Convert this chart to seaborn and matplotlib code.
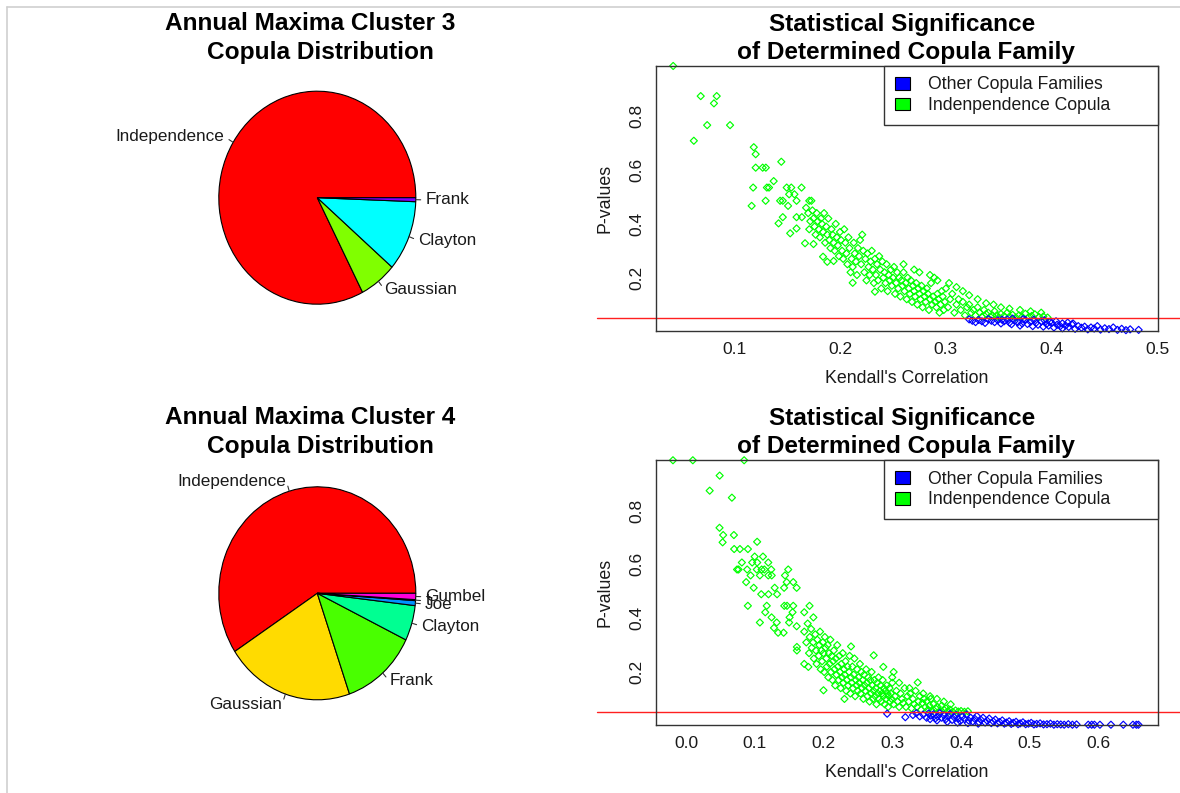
import numpy as np
import pandas as pd
import matplotlib
matplotlib.use("Agg")
import matplotlib.pyplot as plt
import matplotlib.transforms as mtransforms
from matplotlib.patches import Patch
from matplotlib.lines import Line2D
import seaborn as sns

# ---------------- data ----------------
pie3_labels = ["Independence", "Gaussian", "Clayton", "Frank"]
pie3_values = [82.6, 6.1, 10.7, 0.6]
pie3_colors = ["#FF0000", "#80FF00", "#00FFFF", "#8000FF"]

pie4_labels = ["Independence", "Gaussian", "Frank", "Clayton", "Joe", "t", "Gumbel"]
pie4_values = [59.2, 21.1, 12.5, 5.35, 0.75, 0.15, 0.95]
pie4_colors = ["#FF0000", "#FFDB00", "#49FF00", "#00FF92", "#0092FF", "#4900FF", "#FF00DB"]

legend_labels = ["Other Copula Families", "Indenpendence Copula"]
legend_colors = ["#0000FF", "#00FF00"]
p_threshold = 0.05

# cluster 3: (Kendall's tau, p-value)
c3_indep = [
    (0.0425, 0.987), (0.062, 0.709), (0.0685, 0.875), (0.0746, 0.767), (0.081, 0.848), (0.0836, 0.875),
    (0.0962, 0.767), (0.1166, 0.467), (0.118, 0.535), (0.1186, 0.685), (0.1204, 0.659), (0.1204, 0.609),
    (0.127, 0.609), (0.130, 0.609), (0.1298, 0.486), (0.131, 0.535), (0.133, 0.535), (0.1374, 0.559),
    (0.142, 0.402), (0.1435, 0.486), (0.1446, 0.631), (0.146, 0.486), (0.146, 0.425), (0.1497, 0.535),
    (0.151, 0.467), (0.152, 0.51), (0.153, 0.365), (0.154, 0.535), (0.157, 0.51), (0.159, 0.486),
    (0.159, 0.383), (0.159, 0.425), (0.1637, 0.535), (0.164, 0.425), (0.167, 0.328), (0.171, 0.486),
    (0.173, 0.486), (0.175, 0.325), (0.184, 0.278), (0.188, 0.259), (0.194, 0.262), (0.212, 0.181),
    (0.233, 0.148),
    (0.168, 0.46), (0.17, 0.44), (0.172, 0.41), (0.171, 0.38), (0.174, 0.45), (0.175, 0.42), (0.176, 0.39),
    (0.177, 0.36), (0.178, 0.44), (0.179, 0.41), (0.18, 0.38), (0.181, 0.35), (0.182, 0.42), (0.183, 0.40),
    (0.184, 0.37), (0.185, 0.44), (0.186, 0.33), (0.187, 0.39), (0.188, 0.36), (0.189, 0.42), (0.19, 0.34),
    (0.191, 0.31), (0.192, 0.38), (0.193, 0.36), (0.194, 0.33), (0.195, 0.30), (0.196, 0.40), (0.197, 0.35),
    (0.198, 0.32), (0.199, 0.28), (0.2, 0.37),
    (0.201, 0.34), (0.202, 0.30), (0.203, 0.27), (0.204, 0.38), (0.205, 0.33), (0.206, 0.29), (0.207, 0.25),
    (0.208, 0.35), (0.209, 0.31), (0.21, 0.22), (0.211, 0.27), (0.212, 0.24), (0.213, 0.33), (0.214, 0.29),
    (0.215, 0.26), (0.216, 0.21), (0.217, 0.31), (0.218, 0.28), (0.219, 0.34), (0.22, 0.25), (0.221, 0.36),
    (0.222, 0.30), (0.223, 0.22), (0.224, 0.27), (0.225, 0.19), (0.226, 0.29), (0.227, 0.24), (0.228, 0.21),
    (0.229, 0.26), (0.23, 0.30), (0.231, 0.23), (0.232, 0.18), (0.233, 0.27), (0.234, 0.21), (0.235, 0.25),
    (0.236, 0.19), (0.237, 0.28), (0.238, 0.23), (0.239, 0.16), (0.24, 0.26), (0.241, 0.20), (0.242, 0.22),
    (0.243, 0.18), (0.244, 0.25), (0.245, 0.15), (0.246, 0.21), (0.247, 0.19), (0.248, 0.23), (0.249, 0.17),
    (0.25, 0.20),
    (0.251, 0.24), (0.252, 0.14), (0.253, 0.18), (0.254, 0.22), (0.255, 0.16), (0.256, 0.20), (0.257, 0.13),
    (0.258, 0.19), (0.259, 0.17), (0.26, 0.22), (0.261, 0.15), (0.262, 0.18), (0.263, 0.12), (0.264, 0.20),
    (0.265, 0.16), (0.266, 0.14), (0.267, 0.19), (0.268, 0.11), (0.269, 0.17), (0.27, 0.15), (0.271, 0.13),
    (0.272, 0.18), (0.273, 0.10), (0.274, 0.16), (0.275, 0.14), (0.276, 0.12), (0.277, 0.17), (0.278, 0.09),
    (0.279, 0.15), (0.28, 0.13), (0.281, 0.11), (0.282, 0.16), (0.283, 0.14), (0.284, 0.08), (0.285, 0.12),
    (0.286, 0.18), (0.287, 0.10), (0.288, 0.13), (0.289, 0.20), (0.29, 0.11), (0.291, 0.09), (0.292, 0.14),
    (0.293, 0.12), (0.294, 0.07), (0.295, 0.10), (0.296, 0.15), (0.297, 0.13), (0.298, 0.08), (0.299, 0.11),
    (0.3, 0.16),
    (0.302, 0.09), (0.304, 0.12), (0.306, 0.14), (0.308, 0.07), (0.31, 0.10), (0.312, 0.12), (0.314, 0.08),
    (0.316, 0.11), (0.318, 0.06), (0.32, 0.09), (0.322, 0.10), (0.324, 0.07), (0.326, 0.08), (0.328, 0.06),
    (0.33, 0.09), (0.332, 0.07), (0.334, 0.055), (0.336, 0.08), (0.338, 0.065), (0.34, 0.07), (0.342, 0.055),
    (0.344, 0.06), (0.346, 0.075), (0.348, 0.06), (0.35, 0.052), (0.352, 0.065), (0.355, 0.058), (0.358, 0.07),
    (0.36, 0.055), (0.363, 0.062), (0.366, 0.052), (0.369, 0.06), (0.372, 0.055), (0.375, 0.066),
    (0.378, 0.053), (0.381, 0.058), (0.384, 0.064), (0.388, 0.054), (0.392, 0.056), (0.396, 0.052),
    (0.285, 0.21), (0.292, 0.19), (0.303, 0.18), (0.31, 0.165), (0.316, 0.15), (0.322, 0.135), (0.33, 0.12),
    (0.338, 0.105), (0.345, 0.10), (0.352, 0.09), (0.36, 0.085), (0.37, 0.08), (0.38, 0.075), (0.39, 0.07),
    (0.26, 0.25), (0.27, 0.23), (0.275, 0.22),
]
c3_other = [
    (0.322, 0.045), (0.325, 0.040), (0.328, 0.035), (0.331, 0.043), (0.334, 0.038), (0.337, 0.032),
    (0.34, 0.046), (0.343, 0.040), (0.346, 0.035), (0.349, 0.042), (0.352, 0.030), (0.355, 0.038),
    (0.358, 0.045), (0.36, 0.033), (0.362, 0.027), (0.365, 0.040), (0.368, 0.035), (0.37, 0.022),
    (0.372, 0.030), (0.375, 0.043), (0.377, 0.028), (0.38, 0.036), (0.382, 0.020), (0.385, 0.032),
    (0.387, 0.025), (0.39, 0.038), (0.392, 0.018), (0.395, 0.028), (0.397, 0.022), (0.40, 0.032),
    (0.402, 0.015), (0.405, 0.025), (0.408, 0.020), (0.41, 0.012), (0.413, 0.022), (0.416, 0.017),
    (0.419, 0.026), (0.422, 0.010), (0.425, 0.020), (0.428, 0.014), (0.431, 0.018), (0.434, 0.008),
    (0.437, 0.015), (0.44, 0.011), (0.443, 0.020), (0.446, 0.007), (0.45, 0.012), (0.454, 0.009),
    (0.458, 0.015), (0.462, 0.006), (0.466, 0.010), (0.47, 0.005), (0.474, 0.008), (0.482, 0.006),
    (0.353, 0.044), (0.363, 0.048), (0.373, 0.046), (0.383, 0.044), (0.393, 0.042), (0.398, 0.036),
    (0.404, 0.038), (0.41, 0.030), (0.415, 0.033), (0.42, 0.030),
]

# cluster 4: (Kendall's tau, p-value)
c4_indep = [
    (-0.0189, 0.987), (0.010, 0.987), (0.0846, 0.987), (0.049, 0.93), (0.0345, 0.874), (0.0668, 0.848),
    (0.0488, 0.736), (0.0541, 0.709), (0.0697, 0.709), (0.0533, 0.682), (0.1035, 0.684), (0.0701, 0.657),
    (0.0785, 0.657), (0.0901, 0.657), (0.0813, 0.607), (0.0963, 0.607), (0.1036, 0.607), (0.1197, 0.607),
    (0.0999, 0.629), (0.112, 0.629), (0.0743, 0.581), (0.0765, 0.581), (0.089, 0.581), (0.103, 0.581),
    (0.110, 0.581), (0.114, 0.581), (0.124, 0.581), (0.1487, 0.581), (0.094, 0.559), (0.1075, 0.559),
    (0.1197, 0.559), (0.1247, 0.559), (0.144, 0.559), (0.0875, 0.534), (0.1465, 0.534), (0.156, 0.534),
    (0.0985, 0.513), (0.129, 0.513), (0.161, 0.513), (0.1427, 0.513), (0.1095, 0.489), (0.12, 0.489),
    (0.1325, 0.489), (0.09, 0.446), (0.1175, 0.446), (0.143, 0.446), (0.147, 0.446), (0.156, 0.446),
    (0.1797, 0.446), (0.1153, 0.422), (0.155, 0.422), (0.172, 0.422), (0.1245, 0.403), (0.1507, 0.403),
    (0.1853, 0.403), (0.1075, 0.384), (0.132, 0.384), (0.150, 0.384), (0.128, 0.364), (0.134, 0.346),
    (0.142, 0.346), (0.161, 0.37), (0.2, 0.132), (0.2305, 0.10), (0.287, 0.219), (0.302, 0.20),
    (0.337, 0.161), (0.273, 0.262), (0.24, 0.295), (0.1613, 0.293), (0.1613, 0.28), (0.172, 0.23),
    (0.178, 0.219),
    (0.172, 0.35), (0.175, 0.31), (0.177, 0.38), (0.179, 0.27), (0.18, 0.33), (0.182, 0.36), (0.183, 0.29),
    (0.185, 0.31), (0.186, 0.25), (0.188, 0.34), (0.189, 0.28), (0.19, 0.23), (0.191, 0.32), (0.193, 0.26),
    (0.194, 0.30), (0.195, 0.35), (0.196, 0.21), (0.197, 0.28), (0.198, 0.24), (0.199, 0.31), (0.2, 0.27),
    (0.201, 0.20), (0.202, 0.33), (0.203, 0.29), (0.204, 0.25), (0.205, 0.22), (0.206, 0.30), (0.207, 0.18),
    (0.208, 0.27), (0.209, 0.23), (0.21, 0.32), (0.211, 0.20), (0.212, 0.26), (0.213, 0.17), (0.214, 0.24),
    (0.215, 0.28), (0.216, 0.21), (0.217, 0.15), (0.218, 0.25), (0.219, 0.19), (0.22, 0.30), (0.221, 0.22),
    (0.222, 0.17), (0.223, 0.26), (0.224, 0.20), (0.225, 0.14), (0.226, 0.23), (0.227, 0.18), (0.228, 0.27),
    (0.229, 0.16), (0.23, 0.21), (0.231, 0.19), (0.232, 0.24), (0.233, 0.13), (0.234, 0.17), (0.235, 0.22),
    (0.236, 0.15), (0.237, 0.20), (0.238, 0.26), (0.239, 0.12), (0.24, 0.18), (0.241, 0.16), (0.242, 0.22),
    (0.243, 0.14), (0.244, 0.19), (0.245, 0.25), (0.246, 0.11), (0.247, 0.17), (0.248, 0.15), (0.249, 0.21),
    (0.25, 0.13),
    (0.251, 0.18), (0.252, 0.16), (0.253, 0.23), (0.254, 0.12), (0.255, 0.20), (0.256, 0.14), (0.257, 0.17),
    (0.258, 0.10), (0.259, 0.19), (0.26, 0.15), (0.261, 0.13), (0.262, 0.21), (0.263, 0.16), (0.264, 0.11),
    (0.265, 0.18), (0.266, 0.14), (0.267, 0.09), (0.268, 0.17), (0.269, 0.12), (0.27, 0.20), (0.271, 0.15),
    (0.272, 0.10), (0.273, 0.13), (0.274, 0.17), (0.275, 0.11), (0.276, 0.14), (0.277, 0.08), (0.278, 0.16),
    (0.279, 0.12), (0.28, 0.18), (0.281, 0.10), (0.282, 0.13), (0.283, 0.15), (0.284, 0.09), (0.285, 0.12),
    (0.286, 0.17), (0.287, 0.11), (0.288, 0.14), (0.289, 0.08), (0.29, 0.13), (0.291, 0.10), (0.292, 0.15),
    (0.293, 0.12), (0.294, 0.07), (0.295, 0.11), (0.296, 0.14), (0.297, 0.09), (0.298, 0.12), (0.299, 0.10),
    (0.3, 0.16),
    (0.302, 0.08), (0.304, 0.11), (0.306, 0.13), (0.308, 0.09), (0.31, 0.07), (0.312, 0.12), (0.314, 0.10),
    (0.316, 0.085), (0.318, 0.14), (0.32, 0.07), (0.322, 0.11), (0.324, 0.09), (0.326, 0.12), (0.328, 0.065),
    (0.33, 0.10), (0.332, 0.08), (0.334, 0.13), (0.336, 0.07), (0.338, 0.09), (0.34, 0.11), (0.342, 0.06),
    (0.344, 0.085), (0.346, 0.10), (0.348, 0.07), (0.35, 0.09), (0.352, 0.06), (0.354, 0.075), (0.356, 0.10),
    (0.358, 0.055), (0.36, 0.08), (0.363, 0.065), (0.366, 0.07), (0.369, 0.055), (0.372, 0.075),
    (0.375, 0.06), (0.378, 0.065), (0.381, 0.055), (0.384, 0.06), (0.388, 0.052), (0.392, 0.057),
    (0.396, 0.053), (0.40, 0.055), (0.405, 0.052), (0.41, 0.054),
    (0.30, 0.18), (0.31, 0.16), (0.325, 0.14), (0.345, 0.12), (0.355, 0.11), (0.365, 0.10), (0.375, 0.09),
    (0.385, 0.08),
]
c4_other = [
    (0.2926, 0.045), (0.319, 0.032), (0.33, 0.040), (0.335, 0.047), (0.34, 0.035), (0.345, 0.042),
    (0.35, 0.030), (0.353, 0.046), (0.356, 0.038), (0.36, 0.043), (0.363, 0.028), (0.366, 0.035),
    (0.369, 0.047), (0.372, 0.030), (0.375, 0.040), (0.378, 0.025), (0.381, 0.036), (0.384, 0.044),
    (0.387, 0.022), (0.39, 0.032), (0.393, 0.040), (0.396, 0.027), (0.399, 0.018), (0.402, 0.035),
    (0.405, 0.025), (0.408, 0.042), (0.411, 0.020), (0.414, 0.030), (0.417, 0.016), (0.42, 0.026),
    (0.423, 0.036), (0.426, 0.014), (0.429, 0.022), (0.432, 0.030), (0.435, 0.012), (0.438, 0.019),
    (0.441, 0.027), (0.444, 0.010), (0.447, 0.016), (0.45, 0.023), (0.453, 0.009), (0.456, 0.014),
    (0.46, 0.020), (0.463, 0.008), (0.466, 0.012), (0.47, 0.017), (0.473, 0.007), (0.476, 0.011),
    (0.48, 0.015), (0.483, 0.006), (0.486, 0.009), (0.49, 0.013), (0.494, 0.006), (0.498, 0.008),
    (0.502, 0.011), (0.506, 0.005), (0.51, 0.007), (0.515, 0.009), (0.52, 0.005), (0.525, 0.006),
    (0.53, 0.008), (0.535, 0.004), (0.54, 0.006), (0.545, 0.005), (0.55, 0.004), (0.556, 0.006),
    (0.562, 0.004), (0.568, 0.005), (0.585, 0.004), (0.59, 0.004), (0.594, 0.004), (0.602, 0.004),
    (0.618, 0.004), (0.636, 0.004), (0.65, 0.004), (0.655, 0.004), (0.658, 0.004),
    (0.355, 0.025), (0.365, 0.020), (0.38, 0.015), (0.395, 0.012), (0.41, 0.010), (0.425, 0.008),
]

pie_titles = [("Annual Maxima Cluster 3", "Copula Distribution"),
              ("Annual Maxima Cluster 4", "Copula Distribution")]
scatter_title = ("Statistical Significance", "of Determined Copula Family")

# ---------------- style ----------------
sns.set_theme(style="white")
plt.rcParams["font.family"] = ["Liberation Sans", "DejaVu Sans"]

W, H = 1180, 793
fig = plt.figure(figsize=(W / 100, H / 100), dpi=100)


def fx(px):
    return px / W


def fy(py):
    return 1 - py / H


# screenshot border
fig.add_artist(Line2D([fx(7.3), 1], [fy(7.3), fy(7.3)], color="#cfcfcf", lw=1.2))
fig.add_artist(Line2D([fx(7.3), fx(7.3)], [0, fy(7.3)], color="#cfcfcf", lw=1.2))


def draw_pie(top_px, values, labels, colors):
    ax = fig.add_axes([fx(96.8), fy(top_px + 255.4), fx(441), 255.4 / H])
    wedges, texts = ax.pie(values, labels=labels, colors=colors, startangle=0, counterclock=True,
                           labeldistance=1.1, radius=1.0,
                           wedgeprops=dict(edgecolor="black", linewidth=0.8),
                           textprops=dict(fontsize=12.3, color="#1a1a1a"))
    for w in wedges:
        a = np.deg2rad((w.theta1 + w.theta2) / 2)
        ax.plot([np.cos(a), 1.05 * np.cos(a)], [np.sin(a), 1.05 * np.sin(a)], color="#333333", lw=0.8)
    ax.set_aspect("auto")
    ax.set_xlim(-2.2386, 2.2386)
    ax.set_ylim(-1.199, 1.199)
    ax.axis("off")
    return ax


draw_pie(70, pie3_values, pie3_labels, pie3_colors)
draw_pie(465.6, pie4_values, pie4_labels, pie4_colors)

palette = {legend_labels[0]: legend_colors[0], legend_labels[1]: legend_colors[1]}


def draw_scatter(top_px, indep, other, xlim, xticks, xticklabels):
    ax = fig.add_axes([fx(655.7), fy(top_px + 265), fx(502), 265 / H])
    df = pd.concat([
        pd.DataFrame(indep, columns=["tau", "p"]).assign(group=legend_labels[1]),
        pd.DataFrame(other, columns=["tau", "p"]).assign(group=legend_labels[0]),
    ], ignore_index=True)
    sns.scatterplot(data=df, x="tau", y="p", hue="group", palette=palette, marker="D", s=13,
                    linewidth=0.85, legend=False, ax=ax, clip_on=False)
    for coll in ax.collections:
        fcs = coll.get_facecolors()
        coll.set_edgecolors(fcs)
        coll.set_facecolors("none")
    ax.set_xlim(*xlim)
    ax.set_ylim(0.003, 0.988)
    ax.set_xticks(xticks)
    ax.set_xticklabels(xticklabels)
    ax.set_yticks([0.2, 0.4, 0.6, 0.8])
    ax.set_yticklabels(["0.2", "0.4", "0.6", "0.8"], rotation=90, va="center")
    ax.tick_params(axis="both", direction="out", length=5, width=0.8, color="#333333",
                   labelsize=12.5, labelcolor="#1a1a1a")
    ax.tick_params(axis="x", pad=3.0)
    ax.tick_params(axis="y", pad=3.5)
    for s in ax.spines.values():
        s.set_visible(True)
        s.set_color("#333333")
        s.set_linewidth(1.0)
    ax.set_xlabel("Kendall's Correlation", fontsize=12.8, color="#1a1a1a")
    ax.set_ylabel("P-values", fontsize=12.8, color="#1a1a1a")
    ax.xaxis.label.set_va("center")
    ax.yaxis.label.set_va("center")
    ax.xaxis.set_label_coords(0.5, -47.3 / 265)
    ax.yaxis.set_label_coords(-50.7 / 502, 0.5)
    trans = mtransforms.blended_transform_factory(ax.transAxes, ax.transData)
    ax.plot([-58.7 / 502, 1.05], [p_threshold, p_threshold], color="#FF2020", lw=1.0,
            transform=trans, clip_on=False)
    handles = [Patch(facecolor=c, edgecolor="black", linewidth=0.8) for c in legend_colors]
    leg = ax.legend(handles, legend_labels, loc="upper left",
                    bbox_to_anchor=(228.6 / 502, 1 - 63.3 / 265, 273.4 / 502, 63.3 / 265),
                    mode="expand", borderaxespad=0, fontsize=12.7, frameon=True, fancybox=False,
                    handlelength=0.85, handleheight=0.75, handletextpad=1.0, borderpad=0.6,
                    labelspacing=0.22)
    fr = leg.get_frame()
    fr.set_edgecolor("#333333")
    fr.set_linewidth(1.0)
    fr.set_alpha(1)
    for t in leg.get_texts():
        t.set_color("#1a1a1a")
    return ax


draw_scatter(65.7, c3_indep, c3_other, (0.026, 0.5), [0.1, 0.2, 0.3, 0.4, 0.5],
             ["0.1", "0.2", "0.3", "0.4", "0.5"])
draw_scatter(460, c4_indep, c4_other, (-0.044, 0.686), [0.0, 0.1, 0.2, 0.3, 0.4, 0.5, 0.6],
             ["0.0", "0.1", "0.2", "0.3", "0.4", "0.5", "0.6"])

# titles
tkw = dict(fontsize=17.6, fontweight="bold", ha="center", va="center", color="black")
fig.text(fx(310), fy(24), pie_titles[0][0], **tkw)
fig.text(fx(320), fy(52), pie_titles[0][1], **tkw)
fig.text(fx(310), fy(418), pie_titles[1][0], **tkw)
fig.text(fx(320), fy(446), pie_titles[1][1], **tkw)
for y0 in (24, 418):
    fig.text(fx(902), fy(y0), scatter_title[0], **tkw)
    fig.text(fx(906), fy(y0 + 28), scatter_title[1], **tkw)

fig.savefig("out.png", dpi=100, facecolor="white")
